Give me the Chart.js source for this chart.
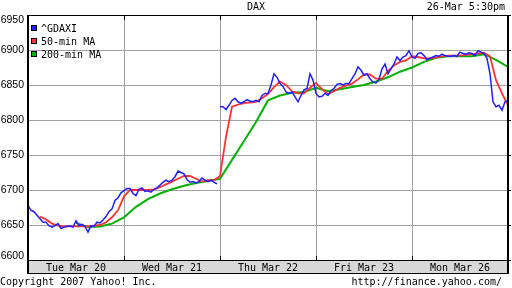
<!DOCTYPE html>
<html>
<head>
<meta charset="utf-8">
<script src="https://cdn.jsdelivr.net/npm/chart.js@4.4.1/dist/chart.umd.min.js"></script>
<style>
  body { margin: 0; background: #fff; }
  #wrap { position: relative; width: 512px; height: 288px; font: 10px "DejaVu Sans Mono", monospace; color: #000; }
  #wrap canvas { position: absolute; left: 0; top: 0; }
  .txt { position: absolute; line-height: 12px; white-space: pre; }
  #legend { position: absolute; left: 31px; top: 22px; }
  .row { display: flex; align-items: center; height: 13px; white-space: pre; }
  .box { width: 4px; height: 4px; border: 1px solid #000; margin-right: 4px; margin-top: -2px; }
</style>
</head>
<body>
<div id="wrap">
  <canvas id="chart" width="512" height="288"></canvas>
  <div class="txt" style="left:0;width:512px;text-align:center;top:1px">DAX</div>
  <div class="txt" style="right:7px;top:1px">26-Mar 5:30pm</div>
  <div id="legend"></div>
  <div class="txt" style="left:0;top:276px">Copyright 2007 Yahoo! Inc.</div>
  <div class="txt" style="right:10px;top:276px">http://finance.yahoo.com/</div>
</div>
<script>
// trading days, 32 samples per day
const days = ['Tue Mar 20', 'Wed Mar 21', 'Thu Mar 22', 'Fri Mar 23', 'Mon Mar 26'];
const perDay = 32;
const yTicks = [6600, 6650, 6700, 6750, 6800, 6850, 6900, 6950];

const gdaxi = [
  6678, 6671, 6669, 6664, 6659, 6654, 6654, 6649, 6647, 6649, 6652, 6645, 6647, 6648, 6649, 6647,
  6656, 6649, 6651, 6648, 6640, 6649, 6648, 6654, 6653, 6657, 6662, 6669, 6673, 6685, 6689, 6696,
  6699, 6702, 6702, 6695, 6692, 6701, 6703, 6698, 6699, 6697, 6701, 6703, 6707, 6711, 6714, 6712,
  6714, 6719, 6727, 6725, 6723, 6715, 6711, 6712, 6710, 6712, 6717, 6714, 6712, 6714, 6711, 6709,
  6819, 6819, 6815, 6821, 6828, 6831, 6826, 6824, 6826, 6829, 6827, 6826, 6828, 6826, 6835, 6838,
  6838, 6850, 6866, 6861, 6852, 6848, 6840, 6838, 6840, 6833, 6826, 6835, 6843, 6845, 6866, 6857,
  6838, 6833, 6834, 6838, 6835, 6842, 6845, 6851, 6852, 6850, 6852, 6852, 6859, 6866, 6876, 6871,
  6864, 6866, 6859, 6854, 6853, 6858, 6873, 6880, 6866, 6873, 6880, 6890, 6885, 6890, 6892, 6899,
  6890, 6888, 6895, 6896, 6892, 6886, 6888, 6890, 6892, 6891, 6894, 6892, 6891, 6891, 6892, 6891,
  6897, 6895, 6894, 6896, 6895, 6892, 6899, 6897, 6895, 6888, 6866, 6826, 6819, 6821, 6814, 6826,
  6828
];

// 50-min MA, one value every 2 samples from sample 4
const ma50Start = 4, ma50Step = 2;
const ma50 = [
  6662, 6658, 6652, 6649, 6648, 6648, 6648, 6648, 6648, 6649,
  6650, 6654, 6661, 6671, 6691, 6700, 6700, 6700, 6700, 6701,
  6704, 6708, 6712, 6716, 6720, 6720, 6716, 6712, 6714, 6714,
  6720, 6776, 6819, 6822, 6824, 6825, 6826, 6831, 6837, 6847,
  6855, 6850, 6841, 6838, 6838, 6846, 6853, 6844, 6837, 6841,
  6846, 6849, 6852, 6858, 6865, 6865, 6859, 6859, 6870, 6878,
  6883, 6885, 6891, 6890, 6888, 6888, 6889, 6891, 6892, 6892,
  6892, 6893, 6894, 6895, 6896, 6891, 6857, 6838, 6821
];

// 200-min MA, one value every 4 samples from sample 16
const ma200Start = 16, ma200Step = 4;
const ma200 = [
  6653, 6647, 6648, 6652, 6661, 6676, 6687, 6695, 6701, 6706,
  6710, 6713, 6716, 6743, 6770, 6797, 6828, 6835, 6839, 6840,
  6846, 6841, 6844, 6847, 6850, 6855, 6861, 6869, 6875, 6883,
  6889, 6891, 6891, 6891, 6894, 6886, 6876
];

const blue = '#1f1fff';
const red = '#ff3333';
const green = '#00b000';

const frame = {
  id: 'frame',
  beforeDraw(chart) {
    const { ctx, chartArea: a } = chart;
    ctx.save();
    ctx.fillStyle = '#d8d8d8';
    ctx.fillRect(a.left, a.bottom, a.right - a.left, 13);
    ctx.restore();
  },
  afterDraw(chart) {
    const { ctx, chartArea: a, scales: { x, y } } = chart;
    const w = a.right - a.left;
    ctx.save();
    ctx.fillStyle = '#000';
    ctx.fillRect(a.left - 1, a.top, 2, a.bottom + 14 - a.top);
    ctx.fillRect(a.right - 1, a.top, 2, a.bottom + 14 - a.top);
    ctx.fillRect(a.left - 1, a.top, w + 2, 1);
    ctx.fillRect(a.left - 1, a.bottom, w + 2, 1);
    ctx.fillRect(a.left - 1, a.bottom + 13, w + 2, 1);
    for (let d = 1; d < days.length; d++) {
      const px = Math.round(x.getPixelForValue(d * perDay));
      ctx.fillRect(px, a.top, 1, 5);
      ctx.fillRect(px, a.bottom - 4, 1, 4);
    }
    yTicks.forEach(v => {
      ctx.fillRect(a.right, Math.round(y.getPixelForValue(v)), 3, 1);
    });
    // y labels, kept inside the frame at both ends
    ctx.font = '10.5px "Liberation Sans"';
    ctx.textAlign = 'right';
    ctx.textBaseline = 'middle';
    yTicks.forEach(v => {
      const py = Math.min(Math.max(y.getPixelForValue(v), a.top + 5), a.bottom - 4);
      ctx.fillText(String(v), 24, py);
    });
    ctx.restore();
  }
};

const chart = new Chart(document.getElementById('chart'), {
  type: 'line',
  data: {
    datasets: [
      {
        label: '^GDAXI',
        data: gdaxi.map((v, i) => ({ x: i, y: v })),
        borderColor: blue,
        borderWidth: 1.5,
        segment: {
          borderColor: c => Math.abs(c.p1.parsed.y - c.p0.parsed.y) > 50 ? 'rgba(0,0,0,0)' : blue
        }
      },
      {
        label: '50-min MA',
        data: ma50.map((v, i) => ({ x: ma50Start + i * ma50Step, y: v })),
        borderColor: red,
        borderWidth: 1.8
      },
      {
        label: '200-min MA',
        data: ma200.map((v, i) => ({ x: ma200Start + i * ma200Step, y: v })),
        borderColor: green,
        borderWidth: 2
      }
    ]
  },
  options: {
    responsive: false,
    animation: false,
    devicePixelRatio: 1,
    layout: { padding: { top: 15, left: 0, right: 4, bottom: 15 } },
    elements: { point: { radius: 0 }, line: { tension: 0, fill: false } },
    plugins: { legend: { display: false }, tooltip: { enabled: false } },
    scales: {
      x: {
        type: 'linear',
        min: 0,
        max: days.length * perDay,
        afterFit: s => { s.height = 13; },
        ticks: {
          stepSize: perDay / 2,
          autoSkip: false,
          maxRotation: 0,
          padding: 2,
          color: '#000',
          font: { family: 'DejaVu Sans Mono', size: 10 },
          callback: v => (v % perDay === perDay / 2) ? days[(v - perDay / 2) / perDay] : ''
        },
        grid: {
          drawTicks: false,
          color: c => (c.tick && c.tick.value % perDay === 0) ? '#a0a0a0' : 'rgba(0,0,0,0)'
        },
        border: { display: false }
      },
      y: {
        min: 6600,
        max: 6950,
        afterFit: s => { s.width = 28; },
        ticks: { stepSize: 50, display: false },
        grid: { drawTicks: false, color: '#a0a0a0' },
        border: { display: false }
      }
    }
  },
  plugins: [frame]
});

// legend inside the plot, top left
const legend = document.getElementById('legend');
chart.data.datasets.forEach(ds => {
  const row = document.createElement('div');
  row.className = 'row';
  const box = document.createElement('span');
  box.className = 'box';
  box.style.background = ds.borderColor;
  row.appendChild(box);
  row.appendChild(document.createTextNode(ds.label));
  legend.appendChild(row);
});
</script>
</body>
</html>
